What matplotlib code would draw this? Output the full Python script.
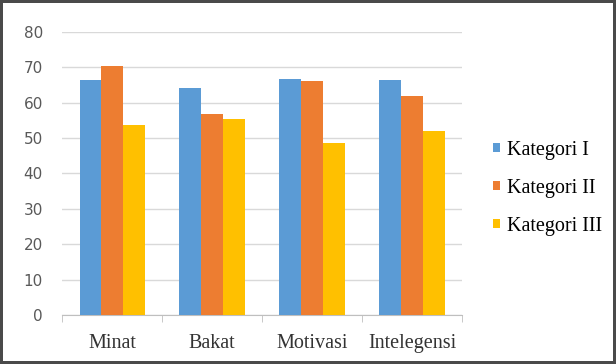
import numpy as np
import matplotlib.pyplot as plt

categories = ["Minat", "Bakat", "Motivasi", "Intelegensi"]
kategori_1 = [66.3, 64.3, 66.7, 66.3]
kategori_2 = [70.3, 56.8, 66.2, 62.0]
kategori_3 = [53.8, 55.5, 48.7, 51.9]
series_names = ["Kategori I", "Kategori II", "Kategori III"]
colors = ["#5B9BD5", "#ED7D31", "#FFC000"]

fig = plt.figure(figsize=(6.16, 3.64), dpi=100)
fig.patch.set_edgecolor("#4a4a4a")
fig.patch.set_linewidth(3)
ax = fig.add_axes([0.101, 0.135, 0.649, 0.777])

x = np.arange(len(categories))
w = 0.218
for i, (vals, name, c) in enumerate(zip([kategori_1, kategori_2, kategori_3], series_names, colors)):
    ax.bar(x + (i - 1) * w, vals, w, color=c, label=name, zorder=3)

ax.set_xlim(-0.5, len(categories) - 0.5)
ax.set_ylim(0, 80)
ax.set_yticks(range(0, 81, 10))
ax.grid(axis="y", color="#d9d9d9", linewidth=1, zorder=0)

for s in ["left", "right", "top"]:
    ax.spines[s].set_visible(False)
ax.spines["bottom"].set_color("#bfbfbf")

ax.set_xticks(x)
ax.set_xticklabels(categories, family="Liberation Serif", fontsize=14.5, color="#333333")
ax.set_xticks(np.arange(-0.5, len(categories), 1), minor=True)
ax.tick_params(axis="x", which="major", length=0, pad=14)
ax.tick_params(axis="x", which="minor", length=5, color="#bfbfbf")
ax.tick_params(axis="y", length=0, labelsize=11, labelcolor="#595959", pad=14)

ax.legend(loc="center left", bbox_to_anchor=(0.80, 0.483), bbox_transform=fig.transFigure,
          frameon=False, borderpad=0, borderaxespad=0,
          prop={"family": "Liberation Serif", "size": 14.5},
          handlelength=0.35, handleheight=0.35, handletextpad=0.35, labelspacing=0.95)

fig.savefig("out.png", dpi=100)
